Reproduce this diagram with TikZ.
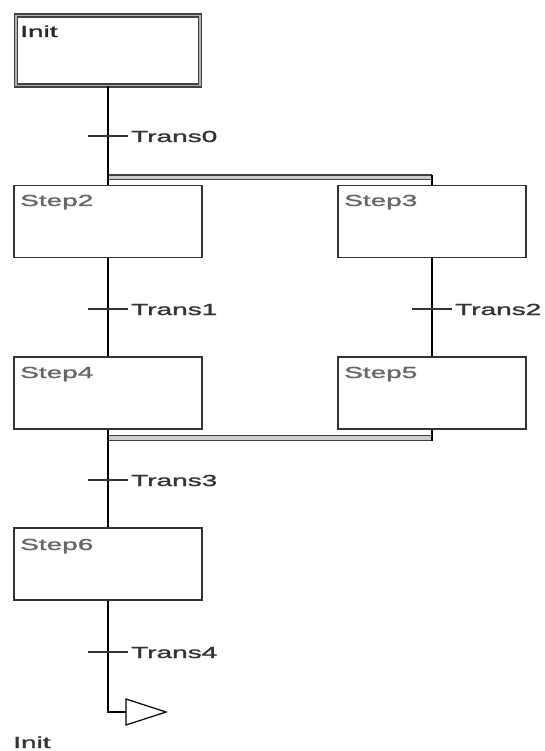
\documentclass[tikz,border=0pt]{standalone}
\usepackage{fontspec}
\setmainfont{Liberation Sans}
\newfontfamily\diafont[FakeBold=1.2]{Liberation Sans}
\begin{document}
\begin{tikzpicture}[x=1pt,y=-1pt,
  stepbox/.style={draw=black!80, line width=1.4pt, minimum width=188pt, minimum height=72pt, inner sep=0pt},
  initbox/.style={draw=black!75, line width=1.4pt, double=black!30, double distance=1.4pt, minimum width=184pt, minimum height=70pt, inner sep=0pt},
  conn/.style={draw=black, line width=1.4pt},
  tick/.style={draw=black!80, line width=1.2pt},
  bar/.style={draw=black!75, line width=1.2pt, double=black!20, double distance=3.6pt},
  lbl/.style={inner sep=0pt, anchor=base west, font=\diafont\fontsize{16}{18}\selectfont, text=black!60},
  tlbl/.style={lbl, text=black!80},
]
\useasboundingbox (0,0) rectangle (545,751);
% boxes
\node[initbox] (init) at (108,50.5) {};
\node[stepbox] (s2) at (108,221.5) {};
\node[stepbox] (s3) at (432,221.5) {};
\node[stepbox] (s4) at (108,393) {};
\node[stepbox] (s5) at (432,393) {};
\node[stepbox] (s6) at (108,564) {};
% box labels
\node[lbl, text=black!85] (linit) at (20,37) {\scalebox{1.75}[1]{Init}};
\node[lbl] (l2) at (20,206) {\scalebox{1.75}[1]{Step2}};
\node[lbl] (l3) at (344,206) {\scalebox{1.75}[1]{Step3}};
\node[lbl] (l4) at (20,378) {\scalebox{1.75}[1]{Step4}};
\node[lbl] (l5) at (344,378) {\scalebox{1.75}[1]{Step5}};
\node[lbl] (l6) at (20,550) {\scalebox{1.75}[1]{Step6}};
% bars
\coordinate (b1l) at (108,177.5);
\coordinate (b1r) at (432,177.5);
\coordinate (b1rt) at (432,175);
\coordinate (b2l) at (108,438);
\coordinate (b2r) at (432,438);
\coordinate (b2rb) at (432,441);
\draw[bar] (b1l) -- (b1r);
\draw[bar] (b2l) -- (b2r);
% connectors
\draw[conn] (init.south) -- (s2.north);
\draw[conn] (b1rt) -- (s3.north);
\draw[conn] (s2.south) -- (s4.north);
\draw[conn] (s3.south) -- (s5.north);
\draw[conn] (s5.south) -- (b2rb);
\draw[conn] (s4.south) -- (s6.north);
\coordinate (jmp) at (126,712);
\draw[conn] (s6.south) |- (jmp);
\draw[conn, line width=1.2pt, line join=miter] (jmp) -- (126,699) -- (166,712) -- (126,725) -- cycle;
% transitions
\coordinate (t0) at (108,136);
\coordinate (t1) at (108,309);
\coordinate (t2) at (432,309);
\coordinate (t3) at (108,480);
\coordinate (t4) at (108,652);
\foreach \t in {t0,t1,t2,t3,t4} \draw[tick] (\t) ++(-20,0) -- ++(40,0);
\node[tlbl] (lt0) at (131,142) {\scalebox{1.75}[1]{Trans0}};
\node[tlbl] (lt1) at (131,315) {\scalebox{1.75}[1]{Trans1}};
\node[tlbl] (lt2) at (455,315) {\scalebox{1.75}[1]{Trans2}};
\node[tlbl] (lt3) at (131,486) {\scalebox{1.75}[1]{Trans3}};
\node[tlbl] (lt4) at (131,658) {\scalebox{1.75}[1]{Trans4}};
\node[tlbl] (ljmp) at (13,748) {\scalebox{1.75}[1]{Init}};
\end{tikzpicture}
\end{document}
